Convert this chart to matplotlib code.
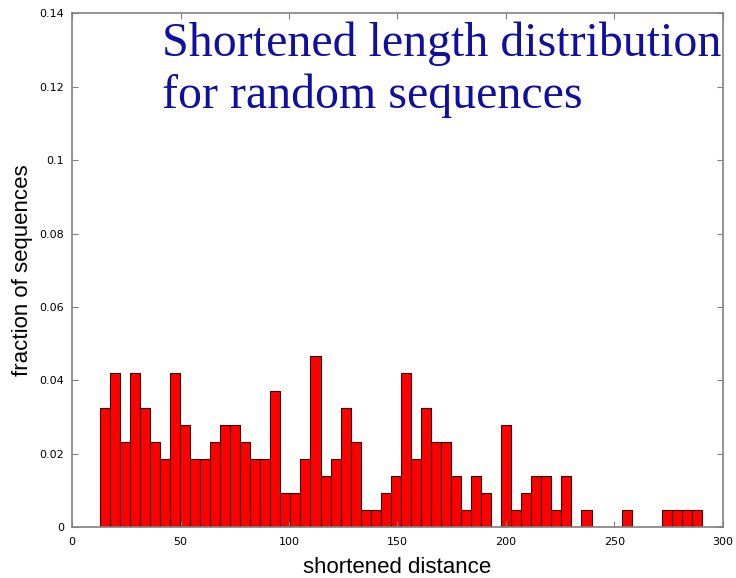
import numpy as np
import matplotlib
matplotlib.use("Agg")
import matplotlib.pyplot as plt

# number of sequences per bin (total 215)
contagens = [7, 9, 5, 9, 7, 5, 4, 9, 6, 4, 4, 5, 6, 6, 5, 4, 4, 8,
             2, 2, 4, 10, 3, 4, 7, 5, 1, 1, 2, 3, 9, 4, 7, 5, 5, 3, 1, 3, 2,
             0, 6, 1, 2, 3, 3, 1, 3, 0, 1, 0, 0, 0, 1, 0, 0, 0, 1, 1, 1, 1]
total = 215
inicio_bins = 12.7
fim_bins = 290.4

x_ticks = [0, 50, 100, 150, 200, 250, 300]
y_ticks = [0, 0.02, 0.04, 0.06, 0.08, 0.1, 0.12, 0.14]
y_tick_labels = ["0", "0.02", "0.04", "0.06", "0.08", "0.1", "0.12", "0.14"]

bordas = np.linspace(inicio_bins, fim_bins, len(contagens) + 1)
fracoes = np.array(contagens) / total
largura = bordas[1] - bordas[0]

fig = plt.figure(figsize=(7.36, 5.78), dpi=100)
ax = fig.add_axes([0.098, 0.088, 0.884, 0.889])

ax.bar(bordas[:-1], fracoes, width=largura, align='edge',
       color='#ff0000', edgecolor='#3a0000', linewidth=0.8)

ax.set_xlim(0, 300)
ax.set_ylim(0, 0.14)
ax.set_xticks(x_ticks)
ax.set_yticks(y_ticks)
ax.set_yticklabels(y_tick_labels)

for s in ax.spines.values():
    s.set_color('#808080')
    s.set_linewidth(1.2)

ax.tick_params(axis='both', direction='in', length=4, color='#808080',
               labelsize=8, top=True, right=True)
ax.tick_params(axis='x', pad=7)
ax.tick_params(axis='y', pad=6)

ax.set_xlabel("shortened distance", fontsize=16, family='Liberation Sans', labelpad=7)
ax.set_ylabel("fraction of sequences", fontsize=16, family='Liberation Sans', labelpad=4)

fig.text(0.220, 0.962, "Shortened length distribution\nfor random sequences",
         fontsize=34.5, family='Liberation Serif', color='#1010a0',
         va='top', ha='left', linespacing=1.2)

fig.savefig("out.png", dpi=100)
